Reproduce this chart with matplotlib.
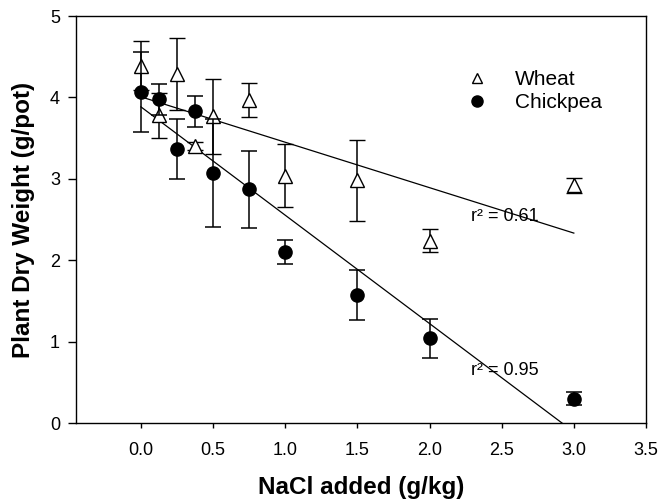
import numpy as np
import matplotlib
matplotlib.use("Agg")
import matplotlib.pyplot as plt
from matplotlib.lines import Line2D

plt.rcParams["font.family"] = ["Liberation Sans", "DejaVu Sans"]

nacl = [0.0, 0.125, 0.25, 0.375, 0.5, 0.75, 1.0, 1.5, 2.0, 3.0]

wheat = [4.39, 3.78, 4.29, 3.40, 3.77, 3.97, 3.04, 2.98, 2.24, 2.92]
wheat_err = [0.30, 0.28, 0.44, 0.05, 0.46, 0.21, 0.39, 0.50, 0.14, 0.09]

chickpea = [4.07, 3.98, 3.37, 3.83, 3.07, 2.87, 2.10, 1.57, 1.04, 0.30]
chickpea_err = [0.49, 0.19, 0.37, 0.19, 0.66, 0.47, 0.15, 0.31, 0.24, 0.08]

r2_labels = ["r\u00b2 = 0.61", "r\u00b2 = 0.95"]
r2_pos = [(2.285, 2.54), (2.285, 0.64)]


def main():
    fig = plt.figure(figsize=(6.62, 5.03), dpi=100)
    ax = fig.add_axes([0.1148, 0.159, 0.861, 0.809])

    # regression lines from the means
    xs = np.array([min(nacl), max(nacl)])
    for vals in (wheat, chickpea):
        slope, icpt = np.polyfit(nacl, vals, 1)
        ax.plot(xs, icpt + slope * xs, c="black", lw=0.9, zorder=2)

    ax.errorbar(nacl, wheat, yerr=wheat_err, fmt="^", ms=9.5, mfc="white",
                mec="black", mew=1.0, ecolor="black", elinewidth=1.1,
                capsize=6, capthick=1.1, zorder=3)
    ax.errorbar(nacl, chickpea, yerr=chickpea_err, fmt="o", ms=9.5, mfc="black",
                mec="black", ecolor="black", elinewidth=1.1,
                capsize=6, capthick=1.1, zorder=4)

    for label, (tx, ty) in zip(r2_labels, r2_pos):
        ax.text(tx, ty, label, fontsize=13, va="center", ha="left", zorder=5)

    handles = [
        Line2D([], [], ls="none", marker="^", ms=7.5, mfc="white", mec="black", mew=1.0),
        Line2D([], [], ls="none", marker="o", ms=8, mfc="black", mec="black"),
    ]
    ax.legend(handles, ["Wheat", "Chickpea"], loc="upper left",
              bbox_to_anchor=(0.671, 0.888), frameon=False, fontsize=15,
              handlelength=1.0, handletextpad=1.33, labelspacing=0.2,
              borderaxespad=0)

    ax.set_xlim(-0.45, 3.5)
    ax.set_ylim(0, 5)
    ax.set_xticks(np.arange(0, 3.51, 0.5))
    ax.set_xticklabels([f"{v:.1f}" for v in np.arange(0, 3.51, 0.5)])
    ax.set_yticks(range(6))
    ax.tick_params(axis="both", direction="out", labelsize=13, width=1.0)
    ax.tick_params(axis="x", length=3.6, pad=10)
    ax.tick_params(axis="y", length=5.5, pad=6)
    for sp in ax.spines.values():
        sp.set_linewidth(1.0)

    ax.set_xlabel("NaCl added (g/kg)", fontsize=17.5, fontweight="bold", labelpad=12)
    ax.set_ylabel("Plant Dry Weight (g/pot)", fontsize=17.5, fontweight="bold", labelpad=11)

    fig.savefig("out.png", dpi=100)


if __name__ == "__main__":
    main()
